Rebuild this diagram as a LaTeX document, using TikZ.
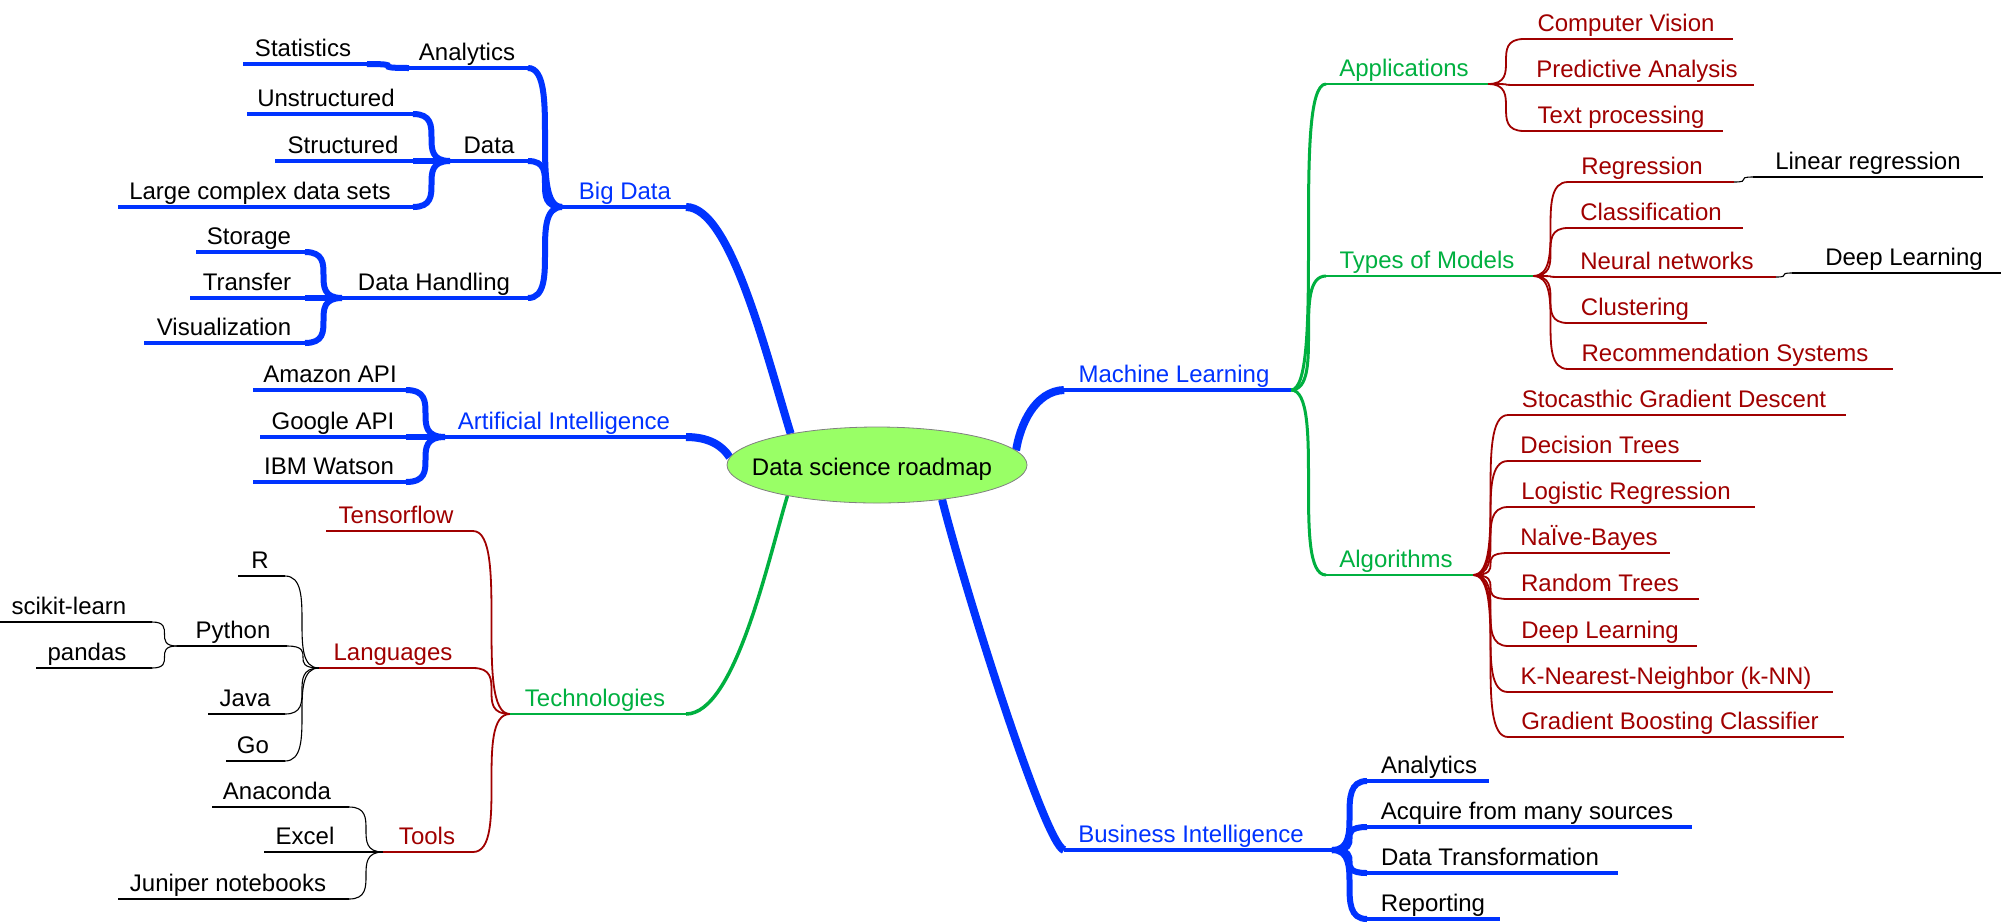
\documentclass[tikz,border=0pt]{standalone}
\usepackage{fontspec}
\setmainfont{Liberation Sans}
\usetikzlibrary{shapes.geometric,backgrounds}
\definecolor{mmblue}{RGB}{0,51,255}
\definecolor{mmgreen}{RGB}{0,176,64}
\definecolor{mmred}{RGB}{160,0,0}
\definecolor{rootgreen}{RGB}{153,255,102}
% name-safe macros
\newcommand\mmtopic[7]{%
  \coordinate (#2-l) at (#3,#5);
  \coordinate (#2-r) at (#4,#5);
  \node[#1, anchor=base, inner sep=0pt] (#2) at (#6,#5-8) {#7};
  \draw[#1 line] (#2-l) -- (#2-r);
}
\newcommand\mmlink[3]{\draw[#1] (#2) .. controls (#2 -| #3) and (#3 -| #2) .. (#3);}
\begin{document}
\begin{tikzpicture}[x=1pt,y=-1pt,font=\fontsize{24}{28}\selectfont,
  mmB/.style={text=mmblue}, mmB line/.style={draw=mmblue,line width=3.3pt},
  mmBk/.style={text=black}, mmBk line/.style={draw=mmblue,line width=3.3pt},
  mmG/.style={text=mmgreen}, mmG line/.style={draw=mmgreen,line width=2.5pt},
  mmR/.style={text=mmred}, mmR line/.style={draw=mmred,line width=1.6pt},
  mmK/.style={text=black}, mmK line/.style={draw=black,line width=1.1pt},
  blink/.style={draw=mmblue,line width=6pt},
  rootlink/.style={draw=mmblue,line width=8pt},
  glink/.style={draw=mmgreen,line width=3pt},
  rootglink/.style={draw=mmgreen,line width=3.5pt},
  rlink/.style={draw=mmred,line width=1.8pt},
  klink/.style={draw=black,line width=1.1pt},
  rootnode/.style={ellipse, draw=gray, line width=0.8pt, fill=rootgreen,
    minimum width=300pt, minimum height=76pt, inner sep=0pt}]
\useasboundingbox (0,0) rectangle (2001,922);

% root
\node[rootnode] (root) at (877,465) {};
\node[anchor=base, inner sep=0pt] (roottext) at (872,475) {Data science roadmap};

% ---------- Big Data ----------
\mmtopic{mmB}{bigdata}{562}{686}{207}{625}{Big Data}
\mmtopic{mmBk}{analytics}{409}{528}{68}{467}{Analytics}
\mmtopic{mmBk}{statistics}{243}{367}{64}{303}{Statistics}
\mmtopic{mmBk}{data}{450}{528}{161}{489}{Data}
\mmtopic{mmBk}{unstructured}{247}{413}{114}{326}{Unstructured}
\mmtopic{mmBk}{structured}{275}{413}{161}{343}{Structured}
\mmtopic{mmBk}{largecds}{118}{413}{207}{260}{Large complex data sets}
\mmtopic{mmBk}{handling}{342}{528}{298}{434}{Data Handling}
\mmtopic{mmBk}{storage}{196}{305}{252}{249}{Storage}
\mmtopic{mmBk}{transfer}{190}{305}{298}{247}{Transfer}
\mmtopic{mmBk}{visual}{144}{305}{343}{224}{Visualization}

% ---------- Artificial Intelligence ----------
\mmtopic{mmB}{ai}{445}{686}{437}{564}{Artificial Intelligence}
\mmtopic{mmBk}{amazon}{253}{406}{390}{330}{Amazon API}
\mmtopic{mmBk}{google}{260}{406}{437}{333}{Google API}
\mmtopic{mmBk}{ibm}{253}{406}{482}{329}{IBM Watson}

% ---------- Technologies ----------
\mmtopic{mmG}{tech}{510}{686}{714}{595}{Technologies}
\mmtopic{mmR}{tensorflow}{326}{473}{531}{396}{Tensorflow}
\mmtopic{mmR}{languages}{319}{473}{668}{393}{Languages}
\mmtopic{mmR}{tools}{383}{473}{852}{427}{Tools}
\mmtopic{mmK}{rlang}{238}{285}{576}{260}{R}
\mmtopic{mmK}{python}{177}{287}{646}{233}{Python}
\mmtopic{mmK}{scikit}{0}{152}{622}{69}{scikit-learn}
\mmtopic{mmK}{pandas}{36}{152}{668}{87}{pandas}
\mmtopic{mmK}{java}{208}{285}{714}{245}{Java}
\mmtopic{mmK}{golang}{226}{285}{761}{253}{Go}
\mmtopic{mmK}{anaconda}{212}{349}{807}{277}{Anaconda}
\mmtopic{mmK}{excel}{264}{349}{852}{305}{Excel}
\mmtopic{mmK}{juniper}{118}{349}{899}{228}{Juniper notebooks}

% ---------- Machine Learning ----------
\mmtopic{mmB}{ml}{1064}{1291}{390}{1174}{Machine Learning}
\mmtopic{mmG}{apps}{1326}{1488}{84}{1404}{Applications}
\mmtopic{mmR}{cv}{1524}{1733}{39}{1626}{Computer Vision}
\mmtopic{mmR}{pa}{1524}{1754}{85}{1637}{Predictive Analysis}
\mmtopic{mmR}{tp}{1524}{1723}{131}{1621}{Text processing}
\mmtopic{mmG}{tom}{1326}{1533}{276}{1427}{Types of Models}
\mmtopic{mmR}{regr}{1568}{1734}{182}{1642}{Regression}
\mmtopic{mmK}{linreg}{1753}{1983}{177}{1868}{Linear regression}
\mmtopic{mmR}{classif}{1568}{1743}{228}{1651}{Classification}
\mmtopic{mmR}{nn}{1568}{1776}{277}{1667}{Neural networks}
\mmtopic{mmK}{dlnn}{1792}{2001}{273}{1904}{Deep Learning}
\mmtopic{mmR}{clust}{1568}{1707}{323}{1635}{Clustering}
\mmtopic{mmR}{recsys}{1568}{1893}{369}{1725}{Recommendation Systems}
\mmtopic{mmG}{algo}{1326}{1473}{575}{1396}{Algorithms}
\mmtopic{mmR}{sgd}{1508}{1846}{415}{1674}{Stocasthic Gradient Descent}
\mmtopic{mmR}{dtree}{1508}{1701}{461}{1600}{Decision Trees}
\mmtopic{mmR}{logreg}{1508}{1755}{507}{1626}{Logistic Regression}
\mmtopic{mmR}{nbayes}{1508}{1670}{553}{1589}{NaÏve-Bayes}
\mmtopic{mmR}{rtree}{1508}{1699}{599}{1600}{Random Trees}
\mmtopic{mmR}{dlalg}{1508}{1697}{646}{1600}{Deep Learning}
\mmtopic{mmR}{knn}{1508}{1833}{692}{1666}{K-Nearest-Neighbor (k-NN)}
\mmtopic{mmR}{gbc}{1508}{1844}{737}{1670}{Gradient Boosting Classifier}

% ---------- Business Intelligence ----------
\mmtopic{mmB}{bi}{1064}{1332}{850}{1191}{Business Intelligence}
\mmtopic{mmBk}{bian}{1367}{1489}{781}{1429}{Analytics}
\mmtopic{mmBk}{acq}{1367}{1692}{827}{1527}{Acquire from many sources}
\mmtopic{mmBk}{dtrans}{1367}{1618}{873}{1490}{Data Transformation}
\mmtopic{mmBk}{report}{1367}{1500}{919}{1433}{Reporting}

\begin{scope}[on background layer]
\fill[white] (0,0) rectangle (2001,922);
% root links
\draw[rootlink] (bigdata-r) .. controls (730,207) and (765,350) .. (root.160);
\draw[rootlink] (ai-r) .. controls (708,437) and (722,445) .. (root.177);
\draw[rootglink] (root.-161) .. controls (768,560) and (735,714) .. (tech-r);
\draw[rootlink] (root.6) .. controls (1020,425) and (1035,391) .. (ml-l);
\draw[rootlink] (root.-28) .. controls (965,590) and (1045,845) .. (bi-l);
% big data
\mmlink{blink}{statistics-r}{analytics-l}
\mmlink{blink}{analytics-r}{bigdata-l}
\mmlink{blink}{data-r}{bigdata-l}
\mmlink{blink}{handling-r}{bigdata-l}
\mmlink{blink}{unstructured-r}{data-l}
\mmlink{blink}{structured-r}{data-l}
\mmlink{blink}{largecds-r}{data-l}
\mmlink{blink}{storage-r}{handling-l}
\mmlink{blink}{transfer-r}{handling-l}
\mmlink{blink}{visual-r}{handling-l}
% AI
\mmlink{blink}{amazon-r}{ai-l}
\mmlink{blink}{google-r}{ai-l}
\mmlink{blink}{ibm-r}{ai-l}
% technologies
\mmlink{rlink}{tensorflow-r}{tech-l}
\mmlink{rlink}{languages-r}{tech-l}
\mmlink{rlink}{tools-r}{tech-l}
\mmlink{klink}{rlang-r}{languages-l}
\mmlink{klink}{python-r}{languages-l}
\mmlink{klink}{java-r}{languages-l}
\mmlink{klink}{golang-r}{languages-l}
\mmlink{klink}{scikit-r}{python-l}
\mmlink{klink}{pandas-r}{python-l}
\mmlink{klink}{anaconda-r}{tools-l}
\mmlink{klink}{excel-r}{tools-l}
\mmlink{klink}{juniper-r}{tools-l}
% machine learning
\mmlink{glink}{ml-r}{apps-l}
\mmlink{glink}{ml-r}{tom-l}
\mmlink{glink}{ml-r}{algo-l}
\mmlink{rlink}{apps-r}{cv-l}
\mmlink{rlink}{apps-r}{pa-l}
\mmlink{rlink}{apps-r}{tp-l}
\mmlink{rlink}{tom-r}{regr-l}
\mmlink{rlink}{tom-r}{classif-l}
\mmlink{rlink}{tom-r}{nn-l}
\mmlink{rlink}{tom-r}{clust-l}
\mmlink{rlink}{tom-r}{recsys-l}
\mmlink{klink}{regr-r}{linreg-l}
\mmlink{klink}{nn-r}{dlnn-l}
\mmlink{rlink}{algo-r}{sgd-l}
\mmlink{rlink}{algo-r}{dtree-l}
\mmlink{rlink}{algo-r}{logreg-l}
\mmlink{rlink}{algo-r}{nbayes-l}
\mmlink{rlink}{algo-r}{rtree-l}
\mmlink{rlink}{algo-r}{dlalg-l}
\mmlink{rlink}{algo-r}{knn-l}
\mmlink{rlink}{algo-r}{gbc-l}
% business intelligence
\mmlink{blink}{bi-r}{bian-l}
\mmlink{blink}{bi-r}{acq-l}
\mmlink{blink}{bi-r}{dtrans-l}
\mmlink{blink}{bi-r}{report-l}
\end{scope}
\end{tikzpicture}
\end{document}
